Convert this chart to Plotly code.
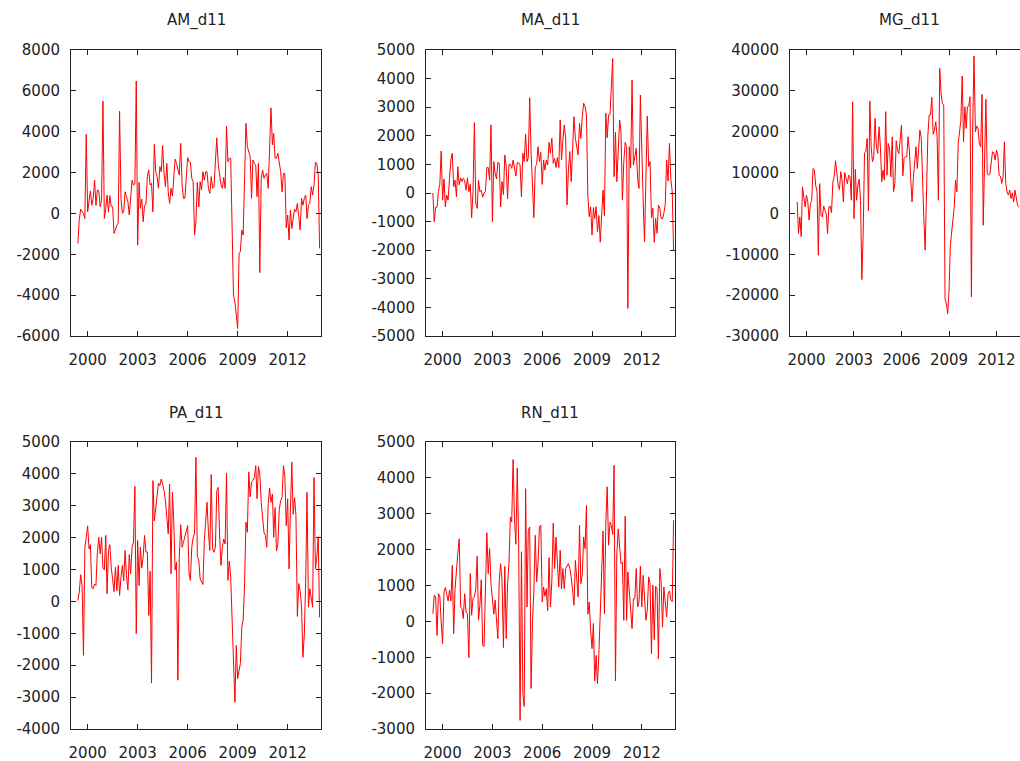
import pandas as pd
import plotly.graph_objects as go

# ---------------- data (monthly, starting June 1999) ----------------
start_month = "1999-06-01"

AM_d11 = [-1470, -300, 200, 80, 0, -250, 3870, 80, 740, 1100,
          400, 740, 1630, 400, 1150, 1110, 330, 650, 5500, -250,
          250, 900, 80, 870, 330, 330, -980, -730, -600, -450,
          5000, 740, 0, 80, 1060, 820, 570, -80, 700, 1630,
          1390, 1450, 6480, -1550, 1520, 250, 700, -400, 400, 440,
          1800, 2130, 1390, 1470, 80, 3380, 2040, 1800, 1230, 2290,
          2040, 3320, 1960, 1310, 2450, 1060, 490, 1230, 850, 1720,
          2660, 2450, 2130, 1880, 3430, 1390, 740, 740, 1720, 2730,
          2530, 2500, 1720, 1550, -1060, -400, 1520, 330, 1550, 1150,
          2040, 1630, 2040, 2040, 1230, 980, 1800, 1230, 1310, 2860,
          3700, 2450, 1800, 1390, 1230, 1770, 1230, 4280, 2530, 2700,
          2700, -500, -4000, -4330, -5200, -5630, -1950, -1870, -810, -1060,
          1700, 4410, 3270, 3020, 2780, 740, 2610, 2450, 2370, 820,
          2450, -2900, 1720, 2130, 1720, 1880, 1960, 1230, 3840, 5170,
          3350, 3920, 2700, 2700, 2940, 2370, 2040, 1060, 1960, 1960,
          -700, -80, -1300, 160, -730, -250, 200, 80, 490, -160,
          -810, 740, 400, 740, 900, -250, 400, 490, 1310, 900,
          1390, 2500, 2450, 1880, -1710]

MA_d11 = [0, -1000, -500, -500, 50, 300, 1470, -250, 490, -480,
          -70, -250, 510, 1150, 1390, 220, 450, -130, 920, 280,
          530, 400, 510, 430, 100, 530, 50, 300, -860, 50,
          2460, -360, -540, 450, 50, 100, -150, 0, 50, 890,
          890, 450, 2380, -1000, 1100, 690, 490, 1070, 1040, -480,
          400, -50, 1330, 920, -210, 1010, 1000, 860, 1150, 920,
          590, 1060, 1060, 980, -130, 1390, 1100, 2050, 1100, 1240,
          3330, 1450, 300, -860, 920, 1000, 1620, 1100, 1420, 300,
          1150, 800, 1150, 980, 1770, 1390, 1910, 1040, 1210, 890,
          1240, 890, 2550, 1150, 1850, 2380, 1910, -420, 800, 1450,
          400, 1390, 2670, 1910, 1560, 1330, 2430, 1910, 2670, 3140,
          3020, 2730, -70, -830, -480, -1470, -510, -890, -480, -1350,
          -790, -1720, -770, 100, -790, 2790, 1930, 2730, 2750, 3600,
          4700, 571, 2121, 396, 1678, 2552, 2144, -245, 1072, 1772,
          1620, -4033, 1620, 886, 3951, 979, 1270, 1562, 513, 163,
          3427, 1270, -303, -1702, 1037, 2692, 921, 1096, -862, -536,
          -1725, -886, -1410, -420, -536, -886, -909, -711, -396, 1154,
          420, 1737, 480, 47, -1993]

MG_d11 = [2800, -4900, -840, -5700, 6500, 3500, 1600, 4470, 2800, -1650,
          2400, 3200, 11000, 10600, 6900, 5300, -10230, 7300, -430, -840,
          1780, 800, -20, -4900, 1600, 1780, 220, 7700, 9000, 12880,
          8960, 6900, 5860, 10200, 8150, 2840, 10000, 8960, 7300, 9370,
          8960, 3240, 27340, -1250, 10760, 3240, 6900, 8400, 3240, -16200,
          -4900, 14840, 15100, 18350, 630, 27500, 16300, 12640, 13860, 23260,
          16310, 14680, 21200, 16310, 7740, 10600, 8150, 24900, 9370, 17130,
          15900, 8960, 18760, 5290, 7330, 17780, 15500, 14680, 19170, 21620,
          9200, 13450, 13860, 13860, 18760, 15500, 8550, 2840, 8550, 13860,
          16310, 11000, 16310, 20400, 18600, 5700, -1650, -9000, 6900, 19170,
          24070, 24070, 28400, 19400, 20400, 22440, 18760, 3240, 35500, 29380,
          26930, 26520, -20850, -22080, -24530, -18810, -7780, -4510, -2060, 1600,
          8150, 5290, 17130, 19580, 22850, 33630, 17540, 26110, 20800, 26110,
          26270, 28560, -20440, 21050, 38530, 19990, 21380, 20800, 17130, 16310,
          29140, -2880, 14680, 27910, 9780, 9370, 9620, 12230, 15090, 14840,
          13050, 15500, 14270, 9370, 9120, 7330, 8960, 17540, 7330, 5290,
          4470, 5700, 3650, 5040, 2840, 5700, 3240, 2020, 1500]

PA_d11 = [30, 290, 840, 500, -1690, 1700, 2010, 2370, 1650, 1780,
          430, 400, 550, 500, 1550, 2010, 1490, 2010, 1050, 990,
          2070, 240, 1600, 1780, 1070, 610, 310, 1070, 340, 1130,
          190, 760, 1130, 640, 1600, 810, 360, 1470, 870, 1720,
          1860, 3610, -1010, 1910, 500, 1700, 1050, 1390, 2070, 1550,
          1550, -440, 950, -2560, 3790, 2520, 2950, 3480, 3710, 3630,
          3840, 3680, 3480, 3160, 2690, 2120, 3680, 870, 3430, 2580,
          990, 1230, -2470, 1390, 2410, 1700, 1860, 2010, 2170, 2380,
          870, 660, 1700, 2010, 2120, 4520,
          1410, 1300, 710, 600, 530, 1910, 2490, 3110, 2170, 1600,
          3980, 1650, 1540, 1700, 3480, 3580, 2120, 1130, 1700, 1960,
          1800, 4030, 660, 1260, 760, -400, -1640, -3160, -1380, -2420,
          -2160, -1950, -800, -590, 560, 2490, 2170, 4060, 3280, 3750,
          3790, 3890, 4260, 3220, 4230, 4000, 3110, 2490, 2150, 2070,
          1700, 3060, 3560, 3110, 3370, 2010, 2940, 1580, 1800, 2900,
          3160, 3270, 4260, 3920, 2380, 3220, 1020, 2800, 4370, 2730,
          3250, 2700, -470, 560, 340, -180, -1750, -1020, 760, 3420,
          -180, 400, 140, -180, 3890, 1020, 1390, 2030, -500]

RN_d11 = [215, 730, 680, -390, 770, 700, -20, -620, 820, 940,
          770, 570, 870, 570, 1560, -340, 900, 1500, 1900, 2300,
          400, 360, 80, 770, 260, 215, -1010, 1330, 170, 650,
          680, 910, 1820, 30, 450, 1160, -670, -700, 960, 2470,
          1330, 2030, 1050, 540, 200, 590, -110, -480, 1140, 1610,
          1140, -730, 1530, -480, 1050, 1610, 2910, 2770, 4510, 2860,
          2150, 4280, 2170, -2760, 1940, -2010, -2370, 3700, 400, 2540,
          2630, -1870, -20, 820, 2400, 1100, 1610, 2630, 2680, 540,
          960, 700, 910, 300, 1780, 400, 1100, 2740, 1470, 2350,
          1650, 960, 1980, 910, 1470, 910, 1470, 1560, 1610, 1470,
          1240, 870, 450, 1700, 1050, 680, 2680, 1050, 1310, 2350,
          2030, 3230, 200, 540, -250, -760, -60, -1660, -950, -1740,
          -900, 120, 1520, 2520, 210, 2770, 3750, 2120, 2770, 2680,
          2420, 4350, -1660, 1890, 2580, 2070, 1610, 1650, 30, 2930,
          30, 1380, 910, 300, -200, 630, 630, 1470, 400, 540,
          1540, 400, 1280, 680, 30, 300, 1240, 1050, -900, 1010,
          -510, 980, 910, -1040, 1470, 1140, -160, 960, 450, 120,
          770, 850, 600, 550, 2820]

titles = ["AM_d11", "MA_d11", "MG_d11", "PA_d11", "RN_d11"]
x_tick_years = ["2000", "2003", "2006", "2009", "2012"]

AM_ticks = [-6000, -4000, -2000, 0, 2000, 4000, 6000, 8000]
MA_ticks = [-5000, -4000, -3000, -2000, -1000, 0, 1000, 2000, 3000, 4000, 5000]
MG_ticks = [-30000, -20000, -10000, 0, 10000, 20000, 30000, 40000]
PA_ticks = [-4000, -3000, -2000, -1000, 0, 1000, 2000, 3000, 4000, 5000]
RN_ticks = [-3000, -2000, -1000, 0, 1000, 2000, 3000, 4000, 5000]

series = [AM_d11, MA_d11, MG_d11, PA_d11, RN_d11]
yticks = [AM_ticks, MA_ticks, MG_ticks, PA_ticks, RN_ticks]

# ---------------- layout geometry (pixels) ----------------
W, H = 1020, 761
panels_px = [  # left, right, top, bottom
    (71, 321, 50, 336),
    (426, 675, 50, 336),
    (790, 1020, 50, 336),
    (71, 321, 442, 729),
    (426, 675, 442, 729),
]
x_ranges = [
    ["1999-01-01", "2014-01-01"],
    ["1999-01-01", "2014-01-01"],
    ["1998-12-17", "2013-06-26"],
    ["1999-01-01", "2014-01-01"],
    ["1999-01-01", "2014-01-01"],
]
title_px = [(196, 21), (550, 21), (909, 21), (196, 413), (550, 413)]

FONT = "DejaVu Sans"
TXT = "#222222"
AX = "#222222"

fig = go.Figure()
layout = dict(
    width=W, height=H, autosize=False,
    margin=dict(l=0, r=0, t=0, b=0, autoexpand=False),
    paper_bgcolor="white", plot_bgcolor="white",
    showlegend=False,
    font=dict(family=FONT, size=15, color=TXT),
)
annotations = []

for k, (vals, name, yt) in enumerate(zip(series, titles, yticks)):
    n = k + 1
    xs = pd.date_range(start_month, periods=len(vals), freq="MS")
    xa = "x" if n == 1 else f"x{n}"
    ya = "y" if n == 1 else f"y{n}"
    fig.add_trace(go.Scatter(
        x=xs, y=vals, mode="lines", name=name,
        line=dict(color="#ff0000", width=1),
        xaxis=xa, yaxis=ya, hoverinfo="x+y",
    ))
    l, r, t, b = panels_px[k]
    xkey = "xaxis" if n == 1 else f"xaxis{n}"
    ykey = "yaxis" if n == 1 else f"yaxis{n}"
    layout[xkey] = dict(
        domain=[l / W, r / W], anchor=ya, range=x_ranges[k], type="date",
        tickvals=[f"{y}-01-01" for y in x_tick_years], ticktext=x_tick_years,
        ticks="inside", ticklen=5, tickwidth=1, tickcolor=AX,
        showline=True, linecolor=AX, linewidth=1, mirror="ticks",
        showgrid=False, zeroline=False, automargin=False,
        tickfont=dict(family=FONT, size=15, color=TXT),
        ticklabelstandoff=10,
    )
    layout[ykey] = dict(
        domain=[1 - b / H, 1 - t / H], anchor=xa,
        range=[yt[0], yt[-1]],
        tickvals=yt, ticktext=[str(v) for v in yt],
        ticks="inside", ticklen=5, tickwidth=1, tickcolor=AX,
        showline=True, linecolor=AX, linewidth=1,
        mirror=("ticks" if n != 3 else False),
        showgrid=False, zeroline=False, automargin=False,
        tickfont=dict(family=FONT, size=15, color=TXT),
        ticklabelstandoff=7,
    )
    tx, ty = title_px[k]
    annotations.append(dict(
        text=name, x=tx / W, y=1 - ty / H, xref="paper", yref="paper",
        xanchor="center", yanchor="middle", showarrow=False,
        font=dict(family=FONT, size=15, color=TXT),
    ))

layout["annotations"] = annotations
fig.update_layout(**layout)
fig.write_html("out.html")
